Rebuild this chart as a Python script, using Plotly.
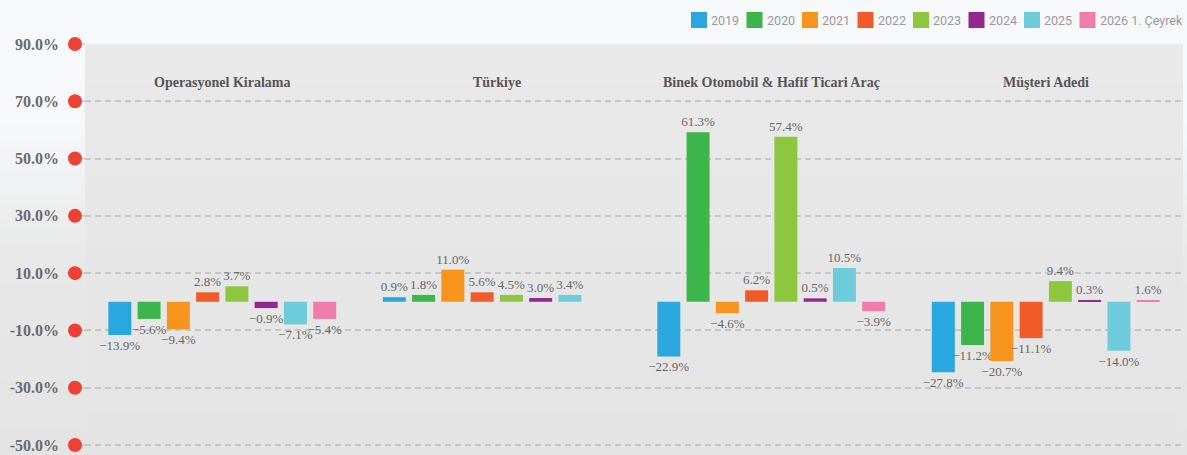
import plotly.graph_objects as go

categories = ["Operasyonel Kiralama", "Türkiye", "Binek Otomobil & Hafif Ticari Araç", "Müşteri Adedi"]
series_names = ["2019", "2020", "2021", "2022", "2023", "2024", "2025", "2026 1. Çeyrek"]
series_colors = ["#29a8e0", "#3cb54a", "#f7941e", "#f15a29", "#8dc63f", "#92278f", "#6dcbdc", "#f07cab"]

# bar heights as drawn in the picture (per category, one value per series)
bars_operasyonel = [-11.6, -6.0, -9.6, 3.3, 5.4, -2.2, -7.9, -6.0]
bars_turkiye = [1.6, 2.4, 11.2, 3.3, 2.4, 1.3, 2.4, None]
bars_binek = [-19.1, 59.2, -4.0, 4.0, 57.6, 1.2, 11.8, -3.3]
bars_musteri = [-24.6, -15.1, -20.7, -12.7, 7.2, 0.5, -17.1, 0.5]

# value labels printed on the picture
labels_operasyonel = [-13.9, -5.6, -9.4, 2.8, 3.7, -0.9, -7.1, -5.4]
labels_turkiye = [0.9, 1.8, 11.0, 5.6, 4.5, 3.0, 3.4, None]
labels_binek = [-22.9, 61.3, -4.6, 6.2, 57.4, 0.5, 10.5, -3.9]
labels_musteri = [-27.8, -11.2, -20.7, -11.1, 9.4, 0.3, -14.0, 1.6]

tick_values = [90, 70, 50, 30, 10, -10, -30, -50]
tick_labels = ["90.0%", "70.0%", "50.0%", "30.0%", "10.0%", "-10.0%", "-30.0%", "-50.0%"]

Y_MIN, Y_MAX = -53.5, 90

W, H = 1187, 455
ML, MR, MT, MB = 85, 4, 44, 0
PW = W - ML - MR
PH = H - MT - MB


def px_x(p):
    return (p - ML) / PW


def px_y(p):
    return 1 - (p - MT) / PH


def val_to_paper(v):
    return (v - Y_MIN) / (Y_MAX - Y_MIN)


def fmt(v):
    if v is None:
        return ""
    s = f"{abs(v):.1f}%"
    return ("\u2212" + s) if v < 0 else s


def lerp_color(c1, c2, t):
    a = [int(c1[i:i + 2], 16) for i in (1, 3, 5)]
    b = [int(c2[i:i + 2], 16) for i in (1, 3, 5)]
    return "#" + "".join(f"{round(a[k] + (b[k] - a[k]) * t):02x}" for k in range(3))


bar_sets = [bars_operasyonel, bars_turkiye, bars_binek, bars_musteri]
label_sets = [labels_operasyonel, labels_turkiye, labels_binek, labels_musteri]

fig = go.Figure()
for i, name in enumerate(series_names):
    ys = [bs[i] for bs in bar_sets]
    txt = [fmt(ls[i]) for ls in label_sets]
    fig.add_trace(go.Bar(
        x=categories, y=ys, name=name, marker_color=series_colors[i],
        marker_line_width=0, text=txt, textposition="outside",
        textfont=dict(family="Liberation Serif", size=13, color="#666666"),
        constraintext="none", cliponaxis=False, showlegend=False,
        hoverinfo="skip",
    ))

shapes = []
# figure background gradient
step = 5
for y0 in range(0, H, step):
    yc = y0 + step / 2
    if yc < 120:
        c = "#f7f8fa"
    elif yc < 260:
        c = lerp_color("#f7f8fa", "#e8e8e8", (yc - 120) / 140)
    else:
        c = lerp_color("#e8e8e8", "#e4e4e4", (yc - 260) / (H - 260))
    shapes.append(dict(type="rect", xref="paper", yref="paper",
                       x0=px_x(0), x1=px_x(W), y0=px_y(y0 + step), y1=px_y(y0),
                       fillcolor=c, line_width=0, layer="below"))
# plot area background
for y0 in range(MT, H, step):
    yc = y0 + step / 2
    c = lerp_color("#e9e9e9", "#e4e4e4", (yc - MT) / (H - MT))
    shapes.append(dict(type="rect", xref="paper", yref="paper",
                       x0=0, x1=px_x(1183), y0=px_y(min(y0 + step, H)), y1=px_y(y0),
                       fillcolor=c, line_width=0, layer="below"))
# dashed grid lead-in between dots and plot area
for tv in tick_values:
    shapes.append(dict(type="line", xref="paper", yref="paper",
                       x0=px_x(81), x1=0, y0=val_to_paper(tv), y1=val_to_paper(tv),
                       line=dict(color="#c6c6c6", width=1.5), layer="below"))
# red dots at ticks
for tv in tick_values:
    shapes.append(dict(type="circle", xref="paper", yref="paper",
                       xsizemode="pixel", ysizemode="pixel",
                       xanchor=px_x(75), yanchor=val_to_paper(tv),
                       x0=-7, x1=7, y0=-7, y1=7,
                       fillcolor="#ef4036", line_width=0, layer="above"))

annotations = []
for cat in categories:
    annotations.append(dict(x=cat, y=px_y(73), xref="x", yref="paper",
                            text=f"<b>{cat}</b>", showarrow=False,
                            font=dict(family="Liberation Serif", size=14, color="#555555")))

# legend drawn manually
for i, name in enumerate(series_names):
    x0 = 691 + i * 55.5
    shapes.append(dict(type="rect", xref="paper", yref="paper",
                       x0=px_x(x0), x1=px_x(x0 + 16), y0=px_y(28), y1=px_y(12),
                       fillcolor=series_colors[i], line_width=0, layer="above"))
    annotations.append(dict(x=px_x(x0 + 19), y=px_y(20), xref="paper", yref="paper",
                            xanchor="left", yanchor="middle", text=name, showarrow=False,
                            borderpad=0,
                            font=dict(family="Roboto", size=12.5, color="#9a9a9a")))

fig.update_layout(
    width=W, height=H, autosize=False,
    margin=dict(l=ML, r=MR, t=MT, b=MB, pad=0),
    paper_bgcolor="#f7f8fa", plot_bgcolor="rgba(0,0,0,0)",
    barmode="group", bargap=0.147, bargroupgap=0.215,
    shapes=shapes, annotations=annotations,
    showlegend=False,
    xaxis=dict(showticklabels=False, showgrid=False, zeroline=False, showline=False,
               ticks="", fixedrange=True),
    yaxis=dict(range=[Y_MIN, Y_MAX], tickmode="array", tickvals=tick_values,
               ticktext=[f"<b>{t}</b>" for t in tick_labels],
               showgrid=True, gridcolor="#c6c6c6", gridwidth=1.5, griddash="6px,4px",
               zeroline=False, showline=False, ticks="",
               ticklabelstandoff=25,
               tickfont=dict(family="Liberation Serif", size=16, color="#6a6a6a"),
               fixedrange=True),
)

fig.write_html("out.html", config={"displayModeBar": False},
               post_script="document.body.style.margin='0';document.body.style.overflow='hidden';")
